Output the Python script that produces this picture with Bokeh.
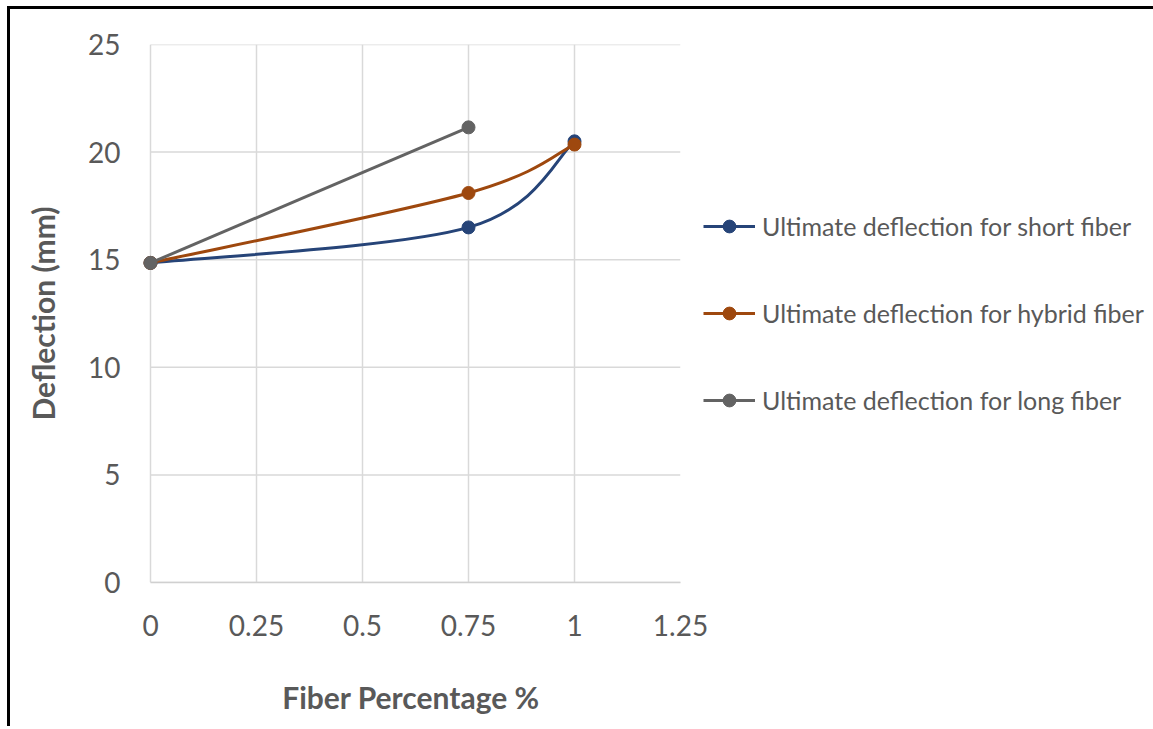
import numpy as np
from bokeh.plotting import figure
from bokeh.models import FixedTicker, Legend, LegendItem
from bokeh.embed import file_html
from bokeh.resources import INLINE

# ---- data ----
x_short = [0, 0.75, 1]
y_short = [14.85, 16.5, 20.5]
x_hybrid = [0, 0.75, 1]
y_hybrid = [14.85, 18.1, 20.35]
x_long = [0, 0.75]
y_long = [14.85, 21.15]

series_names = ["Ultimate deflection for short fiber",
                "Ultimate deflection for hybrid fiber",
                "Ultimate deflection for long fiber"]
x_ticks = [0, 0.25, 0.5, 0.75, 1, 1.25]
x_tick_labels = ["0", "0.25", "0.5", "0.75", "1", "1.25"]
y_ticks = [0, 5, 10, 15, 20, 25]
y_tick_labels = ["0", "5", "10", "15", "20", "25"]

colors = ["#264478", "#9E480E", "#636363"]
FONT = "Lato"
TXT = "#595959"
GRID = "#d9d9d9"

PX_PER_X = 424.0          # pixels per x unit
PAD_LEFT_PX = 9           # small room so the x=0 markers are not clipped

p = figure(frame_width=530 + PAD_LEFT_PX, frame_height=538,
           x_range=(-PAD_LEFT_PX / PX_PER_X, 1.25), y_range=(0, 25),
           min_border_left=131, min_border_right=473,
           min_border_top=35, min_border_bottom=147,
           output_backend="svg", toolbar_location=None,
           background_fill_color="white", border_fill_color="white")
p.outline_line_color = None
try:
    p.margin = (9, 0, 0, 10)
    p.styles = {"box-shadow": "-3px -3px 0px 0px black"}
except Exception:
    pass

p.xgrid.grid_line_color = GRID
p.xgrid.grid_line_width = 1.5
p.ygrid.grid_line_color = None
# horizontal grid lines limited to the x extent of the axis
p.segment(x0=[x_ticks[0]] * len(y_ticks), x1=[x_ticks[-1]] * len(y_ticks),
          y0=y_ticks, y1=y_ticks, line_color=GRID, line_width=1.5)

p.xaxis.ticker = FixedTicker(ticks=x_ticks)
p.yaxis.ticker = FixedTicker(ticks=y_ticks)
p.xaxis.major_label_overrides = {t: l for t, l in zip(x_ticks, x_tick_labels)}
p.yaxis.major_label_overrides = {t: l for t, l in zip(y_ticks, y_tick_labels)}
for ax in (p.xaxis, p.yaxis):
    ax.major_tick_in = 0
    ax.major_tick_out = 0
    ax.minor_tick_in = 0
    ax.minor_tick_out = 0
    ax.major_label_text_font = FONT
    ax.major_label_text_font_size = "28px"
    ax.major_label_text_color = TXT
    ax.axis_label_text_font = FONT
    ax.axis_label_text_font_size = "30px"
    ax.axis_label_text_font_style = "bold"
    ax.axis_label_text_color = TXT
p.yaxis.axis_line_color = None
p.xaxis.axis_line_color = "#d0d0d0"
p.xaxis.axis_line_width = 1.5
p.xaxis.bounds = (x_ticks[0], x_ticks[-1])
p.xaxis.axis_label = "Fiber Percentage %"
p.yaxis.axis_label = "Deflection (mm)"
p.xaxis.major_label_standoff = 32
p.yaxis.major_label_standoff = 21
p.xaxis.axis_label_standoff = 40
p.yaxis.axis_label_standoff = 24


def smooth_segments(xs, ys):
    """Catmull-Rom style bezier control points (Excel-like smoothing)."""
    n = len(xs)
    segs = dict(x0=[], y0=[], x1=[], y1=[], cx0=[], cy0=[], cx1=[], cy1=[])
    for i in range(n - 1):
        xa, ya = xs[max(i - 1, 0)], ys[max(i - 1, 0)]
        xb, yb = xs[i], ys[i]
        xc, yc = xs[i + 1], ys[i + 1]
        xd, yd = xs[min(i + 2, n - 1)], ys[min(i + 2, n - 1)]
        segs["x0"].append(xb); segs["y0"].append(yb)
        segs["x1"].append(xc); segs["y1"].append(yc)
        segs["cx0"].append(xb + (xc - xa) / 6); segs["cy0"].append(yb + (yc - ya) / 6)
        segs["cx1"].append(xc - (xd - xb) / 6); segs["cy1"].append(yc - (yd - yb) / 6)
    return segs


items = []
for xs, ys, c, name in [(x_short, y_short, colors[0], series_names[0]),
                        (x_hybrid, y_hybrid, colors[1], series_names[1]),
                        (x_long, y_long, colors[2], series_names[2])]:
    s = smooth_segments(xs, ys)
    p.bezier(x0=s["x0"], y0=s["y0"], x1=s["x1"], y1=s["y1"],
             cx0=s["cx0"], cy0=s["cy0"], cx1=s["cx1"], cy1=s["cy1"],
             line_color=c, line_width=3)
    sc = p.scatter(xs, ys, size=13, fill_color=c, line_color=c)
    lg = p.line([np.nan], [np.nan], line_color=c, line_width=3)
    items.append(LegendItem(label=name, renderers=[lg, sc]))

legend = Legend(items=items, location=(23, 166),
                glyph_width=52, glyph_height=32, label_height=32,
                spacing=55, padding=0, margin=0, label_standoff=7,
                label_text_font=FONT, label_text_font_size="25px",
                label_text_color=TXT, border_line_color=None,
                background_fill_alpha=0)
p.add_layout(legend, "right")

open("out.html", "w").write(file_html(p, INLINE))
